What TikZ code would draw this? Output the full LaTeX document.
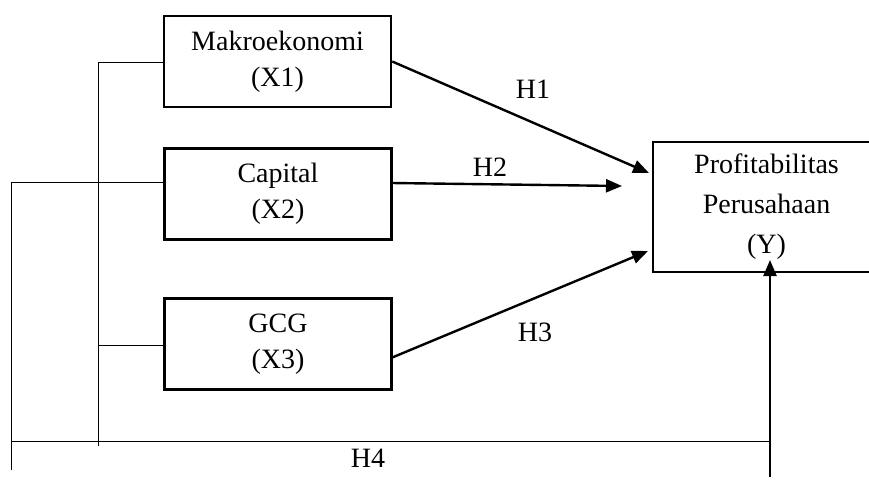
\documentclass[tikz,border=0pt]{standalone}
\usepackage{fontspec}
\setmainfont{Liberation Serif}
\usetikzlibrary{arrows.meta}

\begin{document}
\begin{tikzpicture}[x=1pt, y=-1pt, >={Triangle[length=16pt, width=13pt]},
    var/.style={rectangle, draw, line width=2.5pt, minimum width=227pt, minimum height=91pt, align=center, font=\fontsize{28}{36}\selectfont},
    hyp/.style={font=\fontsize{28}{36}\selectfont}]
      \useasboundingbox (0,0) rectangle (869,483);
      % variables
      \node[var] (X1) at (277.5,61.5) {Makroekonomi\\(X1)};
      \node[var] (X2) at (278,194) {Capital\\(X2)};
      \node[var] (X3) at (278,344) {GCG\\(X3)};
      \node[var, minimum height=130pt, font=\fontsize{28}{40}\selectfont] (Y) at (766.5,207) {Profitabilitas\\Perusahaan\\(Y)};
      % hypothesis labels
      \node[hyp] (H1) at (533,89) {H1};
      \node[hyp] (H2) at (490,167) {H2};
      \node[hyp] (H3) at (535,332) {H3};
      \node[hyp] (H4) at (368,458) {H4};
      % end points
      \coordinate (s2) at (392,183);
      \coordinate (s3) at (391,358);
      \coordinate (e1) at (649,173);
      \coordinate (e2) at (622,186);
      \coordinate (e3) at (648,251);
      \coordinate (in1) at (98,62);
      \coordinate (in2) at (98,446);
      \coordinate (in3) at (98,345);
      \coordinate (out1) at (11,182);
      \coordinate (out2) at (11,470);
      \coordinate (bot1) at (11,441);
      \coordinate (bot2) at (770,441);
      \coordinate (up1) at (770,477);
      \coordinate (up2) at (770,260);
      \draw[->, line width=2.4pt] (X1.east) -- (e1);
      \draw[->, line width=2.4pt] (s2) -- (e2);
      \draw[->, line width=2.4pt] (s3) -- (e3);
      \draw[->, line width=2.4pt] (up1) -- (up2); % simultaneous
      \draw[line width=1pt] (in1) -- (in2);
      \draw[line width=1pt] (in1) -- (in1 -| X1.west);
      \draw[line width=1pt] (in3) -- (in3 -| X3.west);
      \draw[line width=1pt] (out1) -- (out2);
      \draw[line width=1pt] (out1) -- (out1 -| X2.west);
      \draw[line width=1pt] (bot1) -- (bot2);
    \end{tikzpicture}
\end{document}
